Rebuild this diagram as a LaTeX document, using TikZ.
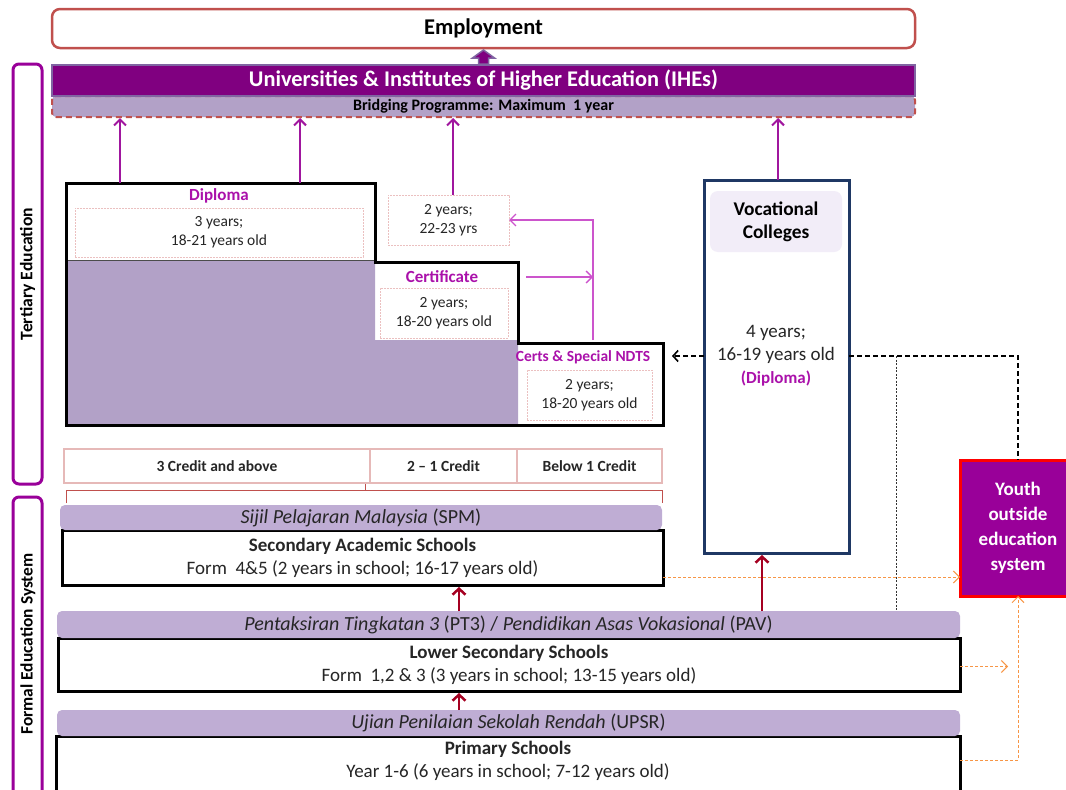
\documentclass[tikz,border=0pt]{standalone}
\usepackage{fontspec}
\setmainfont{Carlito}
\usetikzlibrary{arrows.meta,calc}
\definecolor{empred}{HTML}{C0504D}
\definecolor{ihepurple}{HTML}{800080}
\definecolor{iheborder}{HTML}{8064A2}
\definecolor{bridgefill}{HTML}{B2A1C7}
\definecolor{tertpurple}{HTML}{990099}
\definecolor{arrpurple}{HTML}{A0169E}
\definecolor{lightpurple}{HTML}{CC55CC}
\definecolor{lblpurple}{HTML}{AA11AA}
\definecolor{navy}{HTML}{1F3864}
\definecolor{credpink}{HTML}{E6B9B8}
\definecolor{innerpink}{HTML}{EBC0C0}
\definecolor{examlav}{HTML}{BFADD4}
\definecolor{darkredarr}{HTML}{A50021}
\definecolor{orangearr}{HTML}{F79646}
\definecolor{txtgray}{HTML}{262626}
\definecolor{vocinner}{HTML}{F2EDF8}
\definecolor{stairfill}{HTML}{B2A1C7}
\begin{document}
\begin{tikzpicture}[x=1pt,y=-1pt,
  every node/.style={inner sep=0pt,outer sep=0pt,text=txtgray,align=center},
  box/.style 2 args={minimum width=#1,minimum height=#2},
  fs/.style={font=\fontsize{#1}{\fpeval{#1*1.2}}\selectfont},
  bfs/.style={font=\bfseries\fontsize{#1}{\fpeval{#1*1.2}}\selectfont},
  innerbox/.style={draw=innerpink,line width=0.7pt,dash pattern=on 2pt off 1pt},
  lbl/.style={text=lblpurple,font=\bfseries\fontsize{#1}{#1}\selectfont},
  exambar/.style={fill=examlav,rounded corners=5pt},
  schoolbox/.style={draw=black,line width=3pt,fill=white},
  credit/.style={draw=credpink,line width=2.5pt,fill=white,font=\bfseries\fontsize{15.5}{18}\selectfont},
  parr/.style={draw=arrpurple,line width=2pt,-{Straight Barb[length=6pt,width=12pt]}},
  lparr/.style={draw=lightpurple,line width=1.4pt,-{Straight Barb[length=6pt,width=12pt]}},
  rarr/.style={draw=darkredarr,line width=2.5pt,-{Straight Barb[length=6pt,width=13pt]}},
  dblk/.style={draw=black,line width=1.6pt,dash pattern=on 5pt off 3pt},
  dotblk/.style={draw=black!80,line width=0.8pt,dash pattern=on 2pt off 1.5pt},
  oarr/.style={draw=orangearr,line width=1pt,dash pattern=on 3pt off 2pt},
  otip/.style={-{Straight Barb[length=6pt,width=12pt]}}
]
\useasboundingbox (0,0) rectangle (1066,790);

% ---------- top ----------
\node[box={863}{39},draw=empred,line width=2.5pt,rounded corners=8pt,fill=white,bfs=22.5,text=black] (emp) at (483.5,28.5) {Employment};
\node[box={863}{21},fill=bridgefill,draw=empred,line width=2pt,rounded corners=4pt,dash pattern=on 6pt off 4pt,bfs=16,text=black] (bridge) at (483.5,106.5) {Bridging Programme: Maximum\ \ 1 year};
\node[box={863}{31},fill=ihepurple,draw=iheborder,line width=2pt,text=white,bfs=22.4] (ihe) at (483.5,80.5) {Universities \& Institutes of Higher Education (IHEs)};
\filldraw[fill=ihepurple,draw=iheborder,line width=1.5pt]
  ($(ihe.north)+(-5,-1)$) -- ($(ihe.north)+(-5,-7)$) -- ($(ihe.north)+(-11,-7)$) --
  ($(emp.south)+(0,2)$) -- ($(ihe.north)+(11,-7)$) -- ($(ihe.north)+(5,-7)$) -- ($(ihe.north)+(5,-1)$) -- cycle;

% ---------- side brackets ----------
\node[box={29}{420},draw=tertpurple,line width=3pt,rounded corners=6pt] (tert) at (27.5,274) {};
\node[rotate=90,bfs=17.6,text=black] (terttxt) at (tert.center) {Tertiary Education};
\node[box={29}{320},draw=tertpurple,line width=3pt,rounded corners=6pt] (formal) at (27.5,657) {};
\node[rotate=90,bfs=17.4,text=black] (formaltxt) at (28,644) {Formal Education System};

% ---------- staircase ----------
\node[box={309}{77}] (dip) at (220.5,221.5) {};
\node[box={143}{78}] (cert) at (446.5,301) {};
\node[box={145}{82}] (ndts) at (590.5,384) {};
\fill[stairfill] (dip.south west) -- (dip.south east) -- (cert.south west) -- (cert.south east)
  -- (ndts.south west) -- (dip.south west |- ndts.south) -- cycle;
\draw[black!70,line width=0.8pt] (dip.south west) -- (dip.south east);
\draw[black,line width=3pt,line join=miter] (dip.north west) -- (dip.north east) -- (cert.north west) -- (cert.north east)
  -- (ndts.north west) -- (ndts.north east) -- (ndts.south east) -- (dip.south west |- ndts.south) -- cycle;

\node[lbl=17] (diplbl) at (219,196) {Diploma};
\node[box={288}{49},innerbox,fs=15.5,fill=white] (dipin) at (219,232.5) {3 years;\\18-21 years old};
\node[lbl=17] (certlbl) at (442,277) {Certificate};
\node[box={128}{50},innerbox,fs=15.5] (certin) at (444,313) {2 years;\\18-20 years old};
\node[lbl=15.5] (ndtslbl) at (583,357) {Certs \& Special NDTS};
\node[box={125}{50},innerbox,fs=15.5] (ndtsin) at (589.5,395) {2 years;\\18-20 years old};
\node[box={121}{50},innerbox,fs=15.5] (two) at (448.5,220) {2 years;\\22-23 yrs};

% ---------- vocational ----------
\node[box={145}{373},draw=navy,line width=3pt,fill=white] (voc) at (776.5,366.5) {};
\node[box={132}{61},fill=vocinner,rounded corners=8pt,bfs=19.4,text=black] (vocin) at (776,221.5) {Vocational\\Colleges};
\node[fs=19] (voctxt) at (776,356) {4 years;\\16-19 years old\\{\color{lblpurple}\bfseries\fontsize{17}{20}\selectfont(Diploma)}};
\coordinate (vmid) at (776,356);

% ---------- credits ----------
\node[box={306}{34},credit] (c1) at (217,466) {3 Credit and above};
\node[box={147}{34},credit] (c2) at (443.5,466) {2 -- 1 Credit};
\node[box={145}{34},credit] (c3) at (589.5,466) {Below 1 Credit};
\draw[empred,line width=1pt] (66,503) -- (66,490) -- (662,490) -- (662,503);
\draw[empred,line width=1pt] (365,490) -- (365,484);

% ---------- schools ----------
\node[box={601}{55},schoolbox,fs=19] (sec) at (362.5,557.5) {{\bfseries Secondary Academic Schools}\\Form\ \ 4\&5 (2 years in school; 16-17 years old)};
\node[box={602}{25},exambar,fs=20] (spm) at (361,517.5) {\textit{Sijil Pelajaran Malaysia} (SPM)};
\node[box={902}{53},schoolbox,fs=19] (lower) at (509,664.5) {{\bfseries Lower Secondary Schools}\\Form\ \ 1,2 \& 3 (3 years in school; 13-15 years old)};
\node[box={903}{27},exambar,fs=20] (pt3) at (508.5,624.5) {\textit{Pentaksiran Tingkatan 3} (PT3) / \textit{Pendidikan Asas Vokasional} (PAV)};
\node[box={904}{70},schoolbox] (prim) at (508,771) {};
\node[fs=19] (primtxt) at (508,760.5) {{\bfseries Primary Schools}\\Year 1-6 (6 years in school; 7-12 years old)};
\node[box={903}{26},exambar,fs=20] (upsr) at (508.5,723) {\textit{Ujian Penilaian Sekolah Rendah} (UPSR)};

% ---------- youth ----------
\node[box={116}{136},draw=red,line width=3pt,fill=tertpurple,text=white,bfs=19] (youth) at (1018,528) {Youth\\[2pt]outside\\[2pt]education\\[2pt]system};

% ---------- arrows ----------
\coordinate (a1) at (120,0);
\coordinate (a2) at (300,0);
\coordinate (a3) at (453,0);
\coordinate (a4) at (778,0);
\coordinate (a5) at (593,0);
\coordinate (lp1) at (526,277);
\draw[parr] (dip.north -| a1) -- ($(bridge.south -| a1)+(0,1)$);
\draw[parr] (dip.north -| a2) -- ($(bridge.south -| a2)+(0,1)$);
\draw[parr] (two.north -| a3) -- ($(bridge.south -| a3)+(0,1)$);
\draw[parr] (voc.north -| a4) -- ($(bridge.south -| a4)+(0,1)$);
\draw[lparr] ($(ndts.north -| a5)+(0,-3)$) -- (two.east -| a5) -- (two.east);
\draw[lparr] (lp1) -- (lp1 -| a5);

\draw[dblk,-{Straight Barb[length=5pt,width=11pt]}] (voc.west |- vmid) -- ($(ndts.east |- vmid)+(9,0)$);
\draw[dblk] (voc.east |- vmid) -- (youth.north |- vmid) -- (youth.north);
\coordinate (d1) at (896,356);
\draw[dotblk] (d1) -- (d1 |- pt3.north);

\coordinate (o1) at ($(sec.south east)+(0,-8)$);
\draw[oarr,otip] (o1) -- (o1 -| youth.west);
\coordinate (o2) at (1008,0);
\draw[oarr,otip] ($(lower.east)+(0,2)$) -- ($(lower.east -| o2)+(0,2)$);
\coordinate (o3) at (960,760);
\draw[oarr,otip] (o3) -- (o3 -| youth.south) -- (youth.south);

\coordinate (r1) at (459,0);
\coordinate (r2) at (762,0);
\draw[rarr] (pt3.north -| r1) -- ($(sec.south -| r1)+(0,2)$);
\draw[rarr] (pt3.north -| r2) -- ($(voc.south -| r2)+(0,2)$);
\draw[rarr] (upsr.north -| r1) -- ($(lower.south -| r1)+(0,2)$);
\end{tikzpicture}
\end{document}
